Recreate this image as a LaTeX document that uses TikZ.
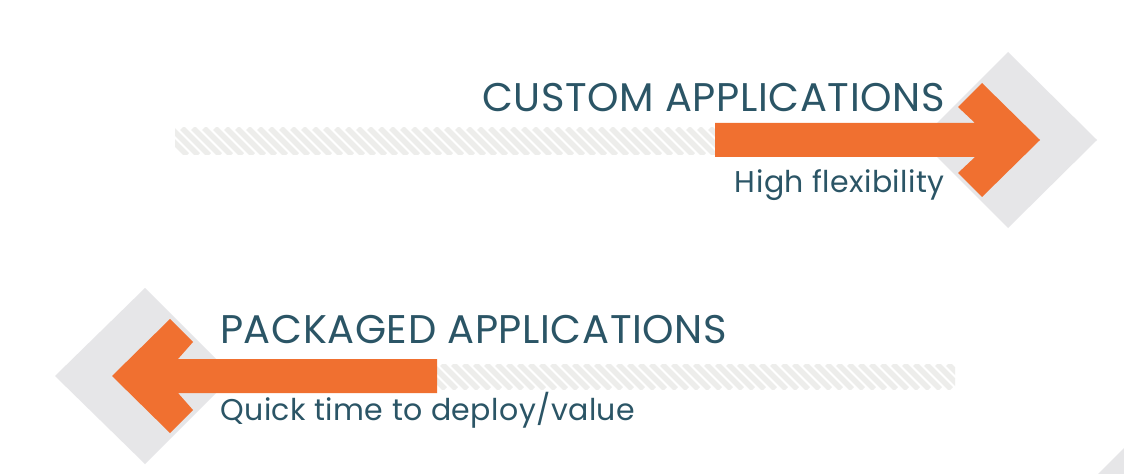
\documentclass[tikz,border=0pt]{standalone}
\usepackage{fontspec}
\setmainfont{Poppins}
\definecolor{org}{HTML}{F07030}
\definecolor{gry}{HTML}{E6E6E8}
\definecolor{hat}{HTML}{EDEDEB}
\definecolor{txt}{HTML}{2B5566}
\tikzset{
  title/.style={text=txt,font=\fontsize{30}{30}\selectfont\addfontfeature{LetterSpace=1.5},inner sep=0pt},
  sub/.style={text=txt,font=\fontsize{22.5}{22.5}\selectfont\addfontfeature{LetterSpace=1.5},inner sep=0pt},
  hatchline/.style={hat,line width=4pt}
}
\begin{document}
\begin{tikzpicture}[x=0.75pt,y=-0.75pt]
\useasboundingbox[fill=white] (0,0) rectangle (1124,474);
% top
\fill[gry] (1008,52) -- (1097,140) -- (1008,228) -- (920,140) -- cycle;
\begin{scope}
\clip (175,128) rectangle (715,155);
\foreach \x in {160,171,...,720} \draw[hatchline] (\x,128) -- (\x+27,155);
\end{scope}
\fill[org] (715,123) -- (975,123) -- (958,107) -- (982,83) -- (1040,140) -- (982,197) -- (958,173) -- (975,157) -- (715,157) -- cycle;
\node[title,anchor=base east] (t1) at (945,112) {CUSTOM APPLICATIONS};
\node[sub,anchor=base east] (s1) at (945,192) {High flexibility};
% bottom
\fill[gry] (145,288) -- (233,376) -- (145,464) -- (55,376) -- cycle;
\begin{scope}
\clip (437,364) rectangle (955,389);
\foreach \x in {420,431,...,960} \draw[hatchline] (\x,364) -- (\x+25,389);
\end{scope}
\fill[org] (437,359) -- (178,359) -- (193,342) -- (170,319) -- (112,376) -- (170,433) -- (193,410) -- (178,393) -- (437,393) -- cycle;
\node[title,anchor=base west] (t2) at (220,343) {PACKAGED APPLICATIONS};
\node[sub,anchor=base west] (s2) at (220,420) {Quick time to deploy/value};
\fill[gry] (1124,448) -- (1124,474) -- (1098,474) -- cycle;
\end{tikzpicture}
\end{document}
